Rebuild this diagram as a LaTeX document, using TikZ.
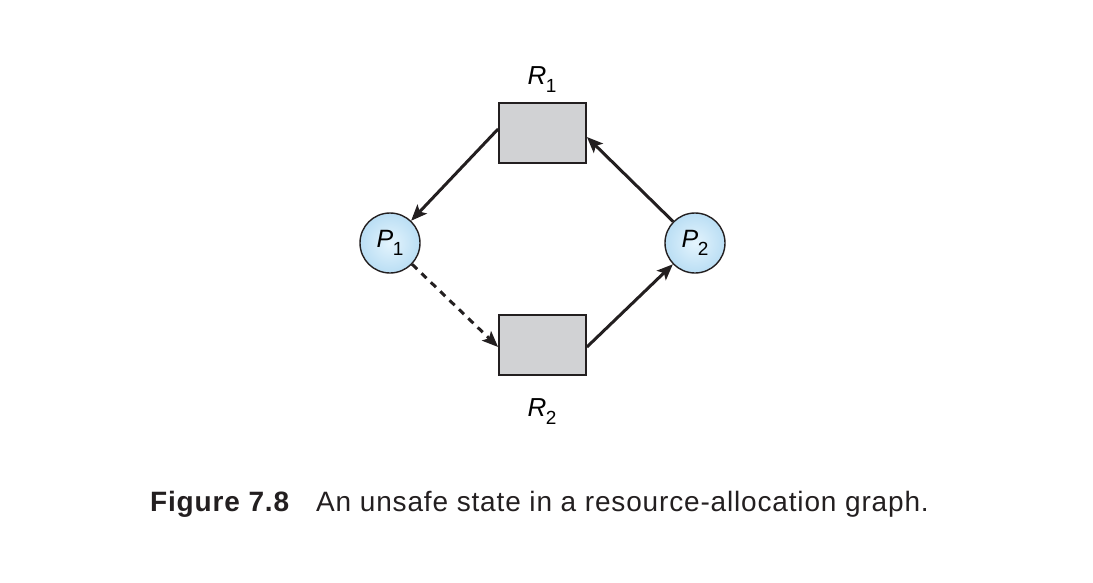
\documentclass[tikz,border=0pt]{standalone}
\usepackage{fontspec}
\setmainfont{Liberation Sans}
\usetikzlibrary{arrows.meta}
\definecolor{boxgray}{RGB}{209,210,212}
\definecolor{edgedark}{RGB}{35,31,32}
\definecolor{pin}{RGB}{228,244,253}
\definecolor{pout}{RGB}{186,222,244}
\tikzset{
  resbox/.style={draw=edgedark, line width=1.8pt, fill=boxgray, minimum width=87pt, minimum height=60pt, inner sep=0pt},
  proc/.style={circle, draw=edgedark, line width=1.4pt, inner color=pin, outer color=pout, minimum size=60pt, inner sep=0pt, font=\fontsize{25}{28}\selectfont},
  lbl/.style={font=\fontsize{26}{30}\selectfont, inner sep=0pt},
  edge/.style={draw=edgedark, line width=3pt, -{Stealth[length=16pt,width=13pt,inset=3.5pt]}},
  caption/.style={font=\fontsize{28}{32}\selectfont\addfontfeatures{LetterSpace=3}, inner sep=0pt, anchor=base west, text=edgedark}
}
\newcommand{\lab}[2]{\textit{#1}\kern-0.02em\raisebox{-0.32em}{\fontsize{19}{20}\selectfont #2}}
\begin{document}
\begin{tikzpicture}[x=1pt,y=-1pt]
\useasboundingbox (0,0) rectangle (1093,582);
\node[resbox] (R1) at (542.5,133) {};
\node[resbox] (R2) at (542.5,345) {};
\node[proc] (P1) at (390,243) {\lab{P}{1}};
\node[proc] (P2) at (695,243) {\lab{P}{2}};
\node[lbl, anchor=base] (LR1) at (542,84) {\lab{R}{1}};
\node[lbl, anchor=base] (LR2) at (542,416) {\lab{R}{2}};
\draw[edge] ([yshift=4pt]R1.west) -- (P1);
\draw[edge] (P2) -- ([yshift=-4pt]R1.east);
\draw[edge] ([yshift=-2pt]R2.east) -- (P2);
\draw[edge, dash pattern=on 7pt off 6pt] (P1) -- ([yshift=-2pt]R2.west);
\node[caption] (C1) at (150,511) {\textbf{Figure 7.8}};
\node[caption] (C2) at (316,511) {An unsafe state in a resource-allocation graph.};
\end{tikzpicture}
\end{document}
